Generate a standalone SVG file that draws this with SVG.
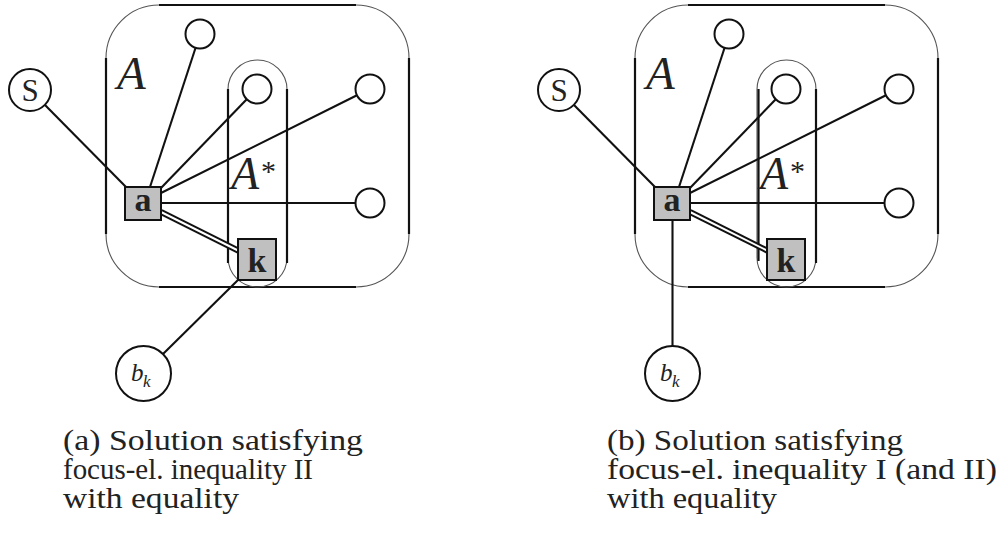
<svg xmlns="http://www.w3.org/2000/svg" width="999" height="536" viewBox="0 0 999 536">
<style>
.thin{fill:none;stroke:#555;stroke-width:1.1}
.thick{fill:none;stroke:#111;stroke-width:2.2}
.edge{stroke:#111;stroke-width:2.1;fill:none}
.node{fill:#fff;stroke:#111;stroke-width:2}
.sq{fill:#c0c0c0;stroke:#111;stroke-width:2}
.lbl{font-family:'Liberation Serif',serif;fill:#222}
.it{font-style:italic}
.bold{font-weight:bold}
.cap{font-family:'Liberation Serif',serif;font-size:29px;fill:#222}
</style>
<defs>
<g id="frame">
<rect class="thin" x="106" y="5" width="303" height="282" rx="53" ry="53"/>
<path class="thick" d="M159 5H356M159 287H356M106 58V234M409 58V234"/>
<rect class="thin" x="228" y="60" width="59" height="227" rx="29.5" ry="29.5"/>
<path class="thick" d="M287 89V263"/>
</g>
</defs>

<!-- Diagram (a) -->
<g id="diagram-a">
<g id="a-setA"><use href="#frame"/><path class="thick" d="M228 89V263"/>
<text class="lbl it" x="117" y="89" font-size="47">A</text></g>
<g id="a-setAstar"><text class="lbl it" x="231" y="189" font-size="46">A</text><text class="lbl" x="261" y="181" font-size="30">*</text></g>
<g id="a-connectors">
<line class="edge" x1="45" y1="105" x2="126" y2="187"/>
<line class="edge" x1="195.5" y1="48" x2="150" y2="187"/>
<line class="edge" x1="247" y1="99" x2="161" y2="188"/>
<line class="edge" x1="357.5" y1="95" x2="161" y2="193"/>
<line class="edge" x1="161" y1="203" x2="356" y2="203"/>
<line stroke="#111" stroke-width="6" x1="161" y1="212" x2="239" y2="251"/>
<line stroke="#fff" stroke-width="2" x1="160" y1="211.5" x2="240" y2="251.5"/>
<line class="edge" x1="238" y1="280" x2="163" y2="354"/>
</g>
<g id="a-node-s"><circle class="node" cx="30" cy="90" r="21"/><text class="lbl" x="30" y="101" font-size="31" text-anchor="middle">S</text></g>
<g id="a-node-top"><circle class="node" cx="200" cy="34" r="14.5"/></g>
<g id="a-node-inner"><circle class="node" cx="257" cy="89" r="14.5"/></g>
<g id="a-node-right1"><circle class="node" cx="370" cy="89" r="14.5"/></g>
<g id="a-node-right2"><circle class="node" cx="370" cy="203" r="14.5"/></g>
<g id="a-node-a"><rect class="sq" x="125" y="187" width="36" height="33"/><text class="lbl bold" x="143" y="211" font-size="34" text-anchor="middle">a</text></g>
<g id="a-node-k"><rect class="sq" x="238" y="239" width="38" height="41"/><text class="lbl bold" x="257" y="272" font-size="34" text-anchor="middle">k</text></g>
<g id="a-node-bk"><circle class="node" cx="143.5" cy="373.5" r="27.5"/><text class="lbl it" x="131" y="381" font-size="25">b</text><text class="lbl it" x="143" y="387" font-size="17">k</text></g>
<g id="a-caption">
<text class="cap" x="63" y="450" textLength="300" lengthAdjust="spacingAndGlyphs">(a) Solution satisfying</text>
<text class="cap" x="63" y="479" textLength="250" lengthAdjust="spacingAndGlyphs">focus-el. inequality II</text>
<text class="cap" x="63" y="508" textLength="176" lengthAdjust="spacingAndGlyphs">with equality</text>
</g>
</g>

<!-- Diagram (b) -->
<g id="diagram-b" transform="translate(529,0)">
<g id="b-setA"><use href="#frame"/><path class="thick" stroke-width="2.6" d="M229.5 89V261"/>
<text class="lbl it" x="117" y="89" font-size="47">A</text></g>
<g id="b-setAstar"><text class="lbl it" x="231" y="189" font-size="46">A</text><text class="lbl" x="261" y="181" font-size="30">*</text></g>
<g id="b-connectors">
<line class="edge" x1="45" y1="105" x2="126" y2="187"/>
<line class="edge" x1="195.5" y1="48" x2="150" y2="187"/>
<line class="edge" x1="247" y1="99" x2="161" y2="188"/>
<line class="edge" x1="357.5" y1="95" x2="161" y2="193"/>
<line class="edge" x1="161" y1="203" x2="356" y2="203"/>
<line stroke="#111" stroke-width="6" x1="161" y1="212" x2="239" y2="251"/>
<line stroke="#fff" stroke-width="2" x1="160" y1="211.5" x2="240" y2="251.5"/>
<line class="edge" x1="143.5" y1="220" x2="143.5" y2="346"/>
</g>
<g id="b-node-s"><circle class="node" cx="30" cy="90" r="21"/><text class="lbl" x="30" y="101" font-size="31" text-anchor="middle">S</text></g>
<g id="b-node-top"><circle class="node" cx="200" cy="34" r="14.5"/></g>
<g id="b-node-inner"><circle class="node" cx="257" cy="89" r="14.5"/></g>
<g id="b-node-right1"><circle class="node" cx="370" cy="89" r="14.5"/></g>
<g id="b-node-right2"><circle class="node" cx="370" cy="203" r="14.5"/></g>
<g id="b-node-a"><rect class="sq" x="125" y="187" width="36" height="33"/><text class="lbl bold" x="143" y="211" font-size="34" text-anchor="middle">a</text></g>
<g id="b-node-k"><rect class="sq" x="238" y="239" width="38" height="41"/><text class="lbl bold" x="257" y="272" font-size="34" text-anchor="middle">k</text></g>
<g id="b-node-bk"><circle class="node" cx="143.5" cy="373.5" r="27.5"/><text class="lbl it" x="131" y="381" font-size="25">b</text><text class="lbl it" x="143" y="387" font-size="17">k</text></g>
<g id="b-caption">
<text class="cap" x="78" y="450" textLength="296" lengthAdjust="spacingAndGlyphs">(b) Solution satisfying</text>
<text class="cap" x="78" y="479" textLength="390" lengthAdjust="spacingAndGlyphs">focus-el. inequality I (and II)</text>
<text class="cap" x="78" y="508" textLength="170" lengthAdjust="spacingAndGlyphs">with equality</text>
</g>
</g>
</svg>
